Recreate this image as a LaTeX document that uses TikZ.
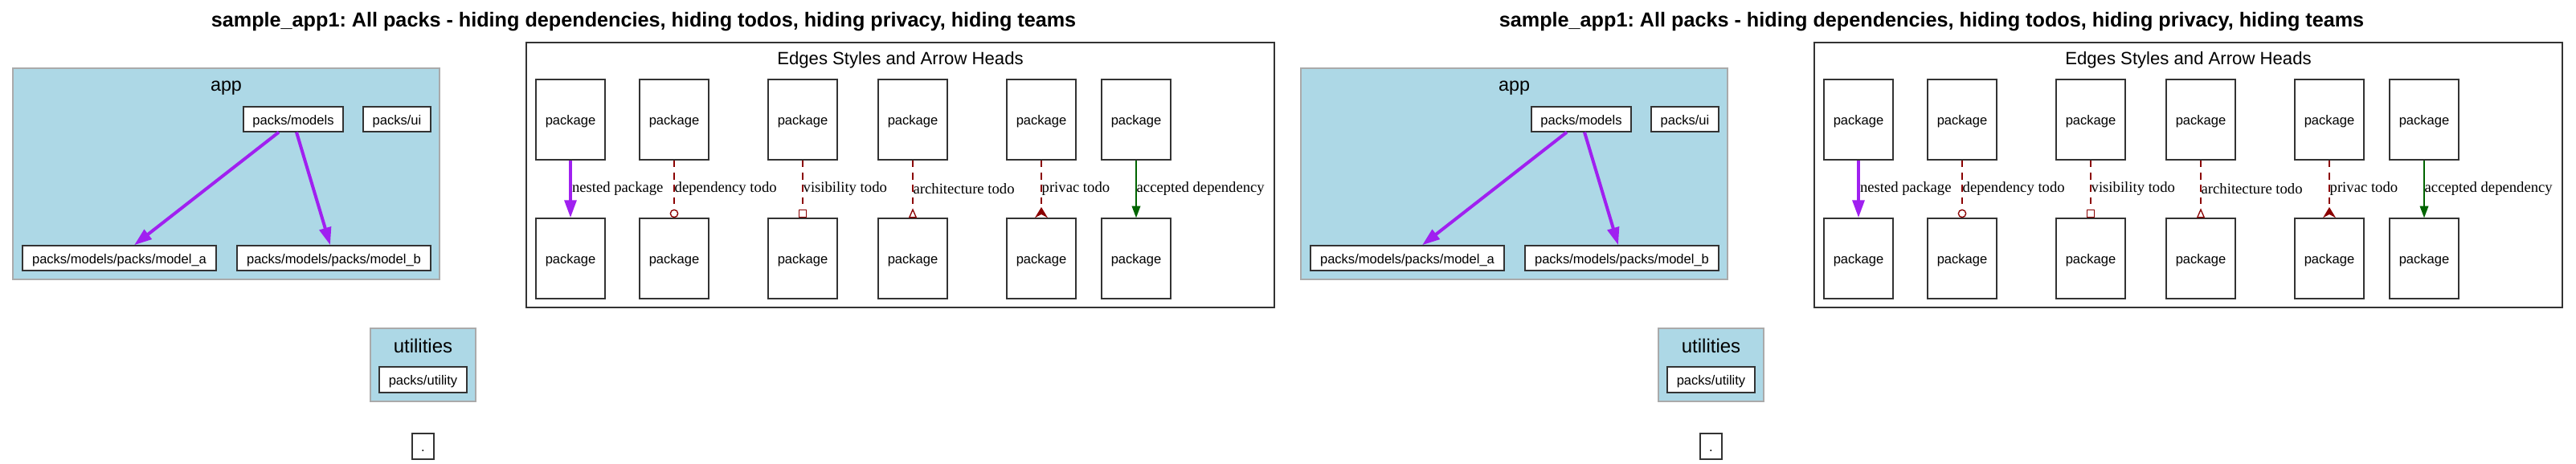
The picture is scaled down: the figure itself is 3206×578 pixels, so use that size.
\documentclass[tikz,border=0pt]{standalone}
\usepackage{fontspec}
\setmainfont{Liberation Serif}
\setsansfont{Liberation Sans}
\usetikzlibrary{arrows.meta}
\frenchspacing
\definecolor{edgepurple}{RGB}{160,32,240}
\definecolor{tododarkred}{RGB}{139,0,0}
\definecolor{okdarkgreen}{RGB}{0,100,0}
\definecolor{clusterblue}{RGB}{173,216,230}
\definecolor{clustergrey}{RGB}{170,170,170}
\definecolor{boxline}{RGB}{51,51,51}
\tikzset{
	titletext/.style={anchor=base, inner sep=0pt, font=\sffamily\bfseries\fontsize{18.9}{22}\selectfont},
	clusterlabel/.style={anchor=base, inner sep=0pt, font=\sffamily\fontsize{17}{20}\selectfont},
	bluecluster/.style={draw=clustergrey, line width=1pt, fill=clusterblue},
	legendcluster/.style={draw=boxline, line width=1pt, fill=white},
	packbox/.style={draw=boxline, line width=1pt, fill=white, inner sep=0pt, minimum height=23.25pt, text height=10pt, text depth=0pt, font=\sffamily\fontsize{12.4}{14}\selectfont},
	pkgbox/.style={packbox, minimum width=64.5pt, minimum height=75pt},
	edgelabel/.style={anchor=west, inner sep=0pt, text=black, font=\rmfamily\fontsize{14}{16}\selectfont},
	nestededge/.style={edgepurple, line width=3pt, -{Triangle[length=16.5pt, width=11pt]}},
	todoedge/.style={tododarkred, line width=1pt, dash pattern=on 6.5pt off 5pt},
	acceptededge/.style={okdarkgreen, line width=1pt, -{Triangle[length=11pt, width=8pt]}}
}
% one copy of the graph, #1 = suffix for the node names
\def\packsgraph#1{
	\node[titletext] (title#1) at (801, 33) {sample\_app1: All packs - hiding dependencies, hiding todos, hiding privacy, hiding teams};
	%
	\draw[bluecluster] (16, 85) rectangle (547, 348);
	\node[clusterlabel, font=\sffamily\fontsize{17.5}{20}\selectfont] (applabel#1) at (281.5, 113) {app};
	\node[packbox, minimum width=93pt] (models#1) at (365, 148.5) {packs/models};
	\node[packbox, minimum width=63pt] (ui#1) at (494, 148.5) {packs/ui};
	\node[packbox, minimum width=180.75pt] (modela#1) at (148.5, 321.5) {packs/models/packs/model\_a};
	\node[packbox, minimum width=180.75pt] (modelb#1) at (415.5, 321.5) {packs/models/packs/model\_b};
	\draw[nestededge] ([xshift=-13.5pt]models#1.south) -- ([xshift=13.875pt]modela#1.north);
	\draw[nestededge] ([xshift=3pt]models#1.south) -- ([xshift=-3.375pt]modelb#1.north);
	%
	\draw[legendcluster] (655, 53) rectangle (1586, 383);
	\node[clusterlabel, font=\sffamily\fontsize{16.6}{20}\selectfont] (legendlabel#1) at (1120.5, 80) {Edges Styles and Arrow Heads};
	\node[pkgbox] (nestedtop#1) at (710, 149) {package};
	\node[pkgbox] (nestedbot#1) at (710, 322) {package};
	\node[pkgbox] (deptop#1) at (839, 149) {package};
	\node[pkgbox] (depbot#1) at (839, 322) {package};
	\node[pkgbox] (vistop#1) at (999, 149) {package};
	\node[pkgbox] (visbot#1) at (999, 322) {package};
	\node[pkgbox] (archtop#1) at (1136, 149) {package};
	\node[pkgbox] (archbot#1) at (1136, 322) {package};
	\node[pkgbox] (privtop#1) at (1296, 149) {package};
	\node[pkgbox] (privbot#1) at (1296, 322) {package};
	\node[pkgbox] (acctop#1) at (1414, 149) {package};
	\node[pkgbox] (accbot#1) at (1414, 322) {package};
	\draw[nestededge] (nestedtop#1) -- node[edgelabel] {nested package} (nestedbot#1);
	\draw[todoedge, -{Circle[open, length=8pt, width=8pt]}] (deptop#1) -- node[edgelabel] {dependency todo} (depbot#1);
	\draw[todoedge, -{Square[open, length=8pt, width=8pt]}] (vistop#1) -- node[edgelabel] {visibility todo} (visbot#1);
	\draw[todoedge, -{Triangle[open, reversed, length=9pt, width=7.5pt]}] (archtop#1) -- node[edgelabel] {architecture todo} (archbot#1);
	\draw[todoedge, -{Stealth[reversed, length=10pt, width=12pt]}] (privtop#1) -- node[edgelabel] {privac todo} (privbot#1);
	\draw[acceptededge] (acctop#1) -- node[edgelabel] {accepted dependency} (accbot#1);
	%
	\draw[bluecluster] (461, 409) rectangle (592, 500);
	\node[clusterlabel, font=\sffamily\fontsize{18}{20}\selectfont] (utillabel#1) at (526.5, 439) {utilities};
	\node[packbox, minimum width=81.75pt, minimum height=24pt] (utility#1) at (526.5, 473) {packs/utility};
	\node[packbox, minimum width=20.25pt, minimum height=24pt] (root#1) at (526.5, 556) {.};
}
\begin{document}
\begin{tikzpicture}[x=0.75pt, y=-0.75pt]
	%%%%% START %%%%%
	
	\useasboundingbox (0, 0) rectangle (3206, 578);
	
	\begin{scope}
		\packsgraph{L}
	\end{scope}
	
	\begin{scope}[shift={(1603, 0)}]
		\packsgraph{R}
	\end{scope}
	
	%%%%% END %%%%%
\end{tikzpicture}
\end{document}
